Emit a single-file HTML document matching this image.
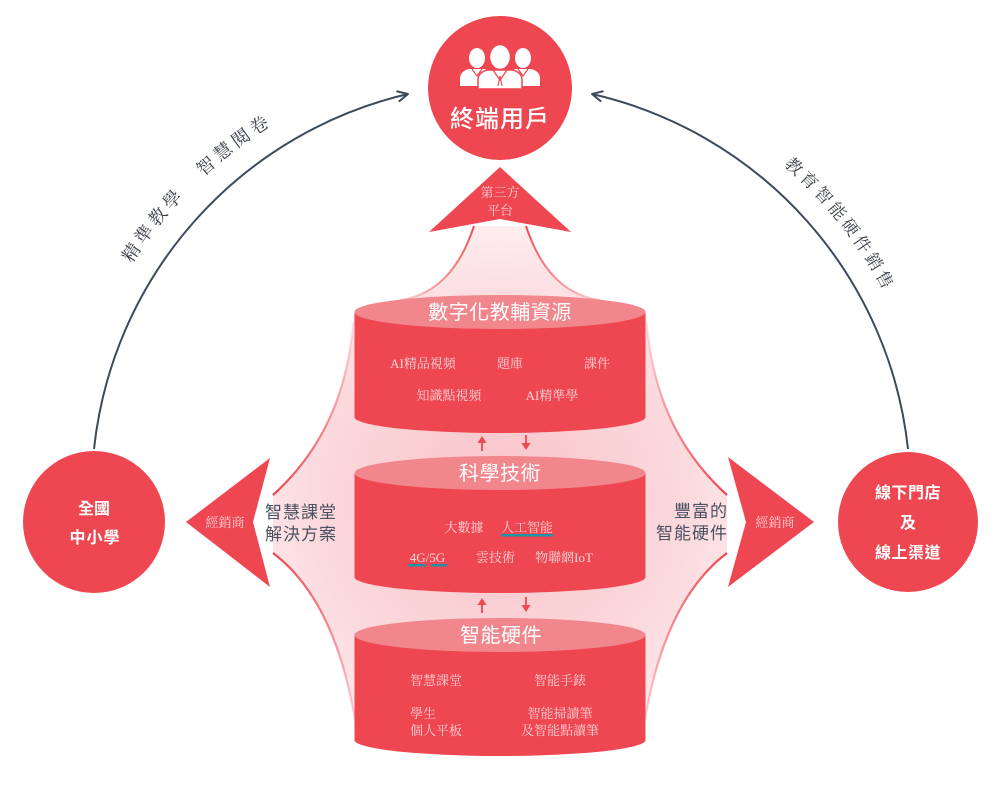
<!DOCTYPE html>
<html>
<head>
<meta charset="utf-8">
<style>
  html, body { margin:0; padding:0; background:#ffffff; }
  body { width:1006px; height:785px; overflow:hidden; }
  svg { display:block; }
  .sans { font-family: "Liberation Sans", "Noto Sans CJK TC", "Noto Sans CJK SC", sans-serif; }
  .serif { font-family: "Liberation Serif", "Noto Serif CJK SC", serif; }
</style>
</head>
<body>
<svg width="1006" height="785" viewBox="0 0 1006 785" xmlns="http://www.w3.org/2000/svg">
  <defs>
    <radialGradient id="fanG" cx="500" cy="500" r="300" gradientUnits="userSpaceOnUse">
      <stop offset="0" stop-color="#f8c3c8"/>
      <stop offset="0.6" stop-color="#fbd8dc"/>
      <stop offset="1" stop-color="#fff2f3"/>
    </radialGradient>
    <linearGradient id="gTL" gradientUnits="userSpaceOnUse" x1="474" y1="226" x2="380" y2="302">
      <stop offset="0" stop-color="#ef4751" stop-opacity="1"/>
      <stop offset="1" stop-color="#ef4751" stop-opacity="0.1"/>
    </linearGradient>
    <linearGradient id="gTR" gradientUnits="userSpaceOnUse" x1="526" y1="226" x2="620" y2="302">
      <stop offset="0" stop-color="#ef4751" stop-opacity="1"/>
      <stop offset="1" stop-color="#ef4751" stop-opacity="0.1"/>
    </linearGradient>
    <linearGradient id="gLU" gradientUnits="userSpaceOnUse" x1="353" y1="323" x2="273" y2="495">
      <stop offset="0" stop-color="#ef4751" stop-opacity="0.1"/>
      <stop offset="1" stop-color="#ef4751" stop-opacity="1"/>
    </linearGradient>
    <linearGradient id="gRU" gradientUnits="userSpaceOnUse" x1="647" y1="323" x2="727" y2="495">
      <stop offset="0" stop-color="#ef4751" stop-opacity="0.1"/>
      <stop offset="1" stop-color="#ef4751" stop-opacity="1"/>
    </linearGradient>
    <linearGradient id="gLL" gradientUnits="userSpaceOnUse" x1="273" y1="553" x2="355" y2="720">
      <stop offset="0" stop-color="#ef4751" stop-opacity="1"/>
      <stop offset="1" stop-color="#ef4751" stop-opacity="0.2"/>
    </linearGradient>
    <linearGradient id="gRL" gradientUnits="userSpaceOnUse" x1="727" y1="553" x2="645" y2="720">
      <stop offset="0" stop-color="#ef4751" stop-opacity="1"/>
      <stop offset="1" stop-color="#ef4751" stop-opacity="0.2"/>
    </linearGradient>
    <marker id="chev" viewBox="0 0 12 12" refX="11" refY="6" markerWidth="12" markerHeight="12" markerUnits="userSpaceOnUse" orient="auto">
      <path d="M1,1 L11,6 L1,11" fill="none" stroke="#3d4a5c" stroke-width="2" stroke-linecap="round" stroke-linejoin="round"/>
    </marker>
    <path id="labelArc" d="M 65,495 A 435,435 0 0,1 935,495"/>
  </defs>

  <!-- Big arcs -->
  <path d="M94,449 A409,409 0 0,1 408,94" fill="none" stroke="#3d4a5c" stroke-width="2" marker-end="url(#chev)"/>
  <path d="M908,449 A409,409 0 0,0 592,94" fill="none" stroke="#3d4a5c" stroke-width="2" marker-end="url(#chev)"/>

  <!-- Arc labels -->
  <text class="serif" font-size="18" fill="#3a3f4a" letter-spacing="4">
    <textPath href="#labelArc" startOffset="288" text-anchor="middle">精準教學</textPath>
  </text>
  <text class="serif" font-size="18" fill="#3a3f4a" letter-spacing="4">
    <textPath href="#labelArc" startOffset="401" text-anchor="middle">智慧閱卷</textPath>
  </text>
  <text class="serif" font-size="17" fill="#3a3f4a" letter-spacing="3.5">
    <textPath href="#labelArc" startOffset="1074" text-anchor="middle">教育智能硬件銷售</textPath>
  </text>

  <!-- Pink fan -->
  <path d="M474,226 Q452,293 400,300 A145.5,17 0 0,0 354.5,312 L353,323 Q345,430 273,495 L273,553 Q335,600 355,720 L645,720 Q665,600 727,553 L727,495 Q655,430 647,323 L645.5,312 A145.5,17 0 0,0 600,300 Q548,293 526,226 Z" fill="url(#fanG)"/>
  <!-- fan edge lines -->
  <path d="M474,226 Q452,293 400,300" fill="none" stroke="url(#gTL)" stroke-width="2"/>
  <path d="M526,226 Q548,293 600,300" fill="none" stroke="url(#gTR)" stroke-width="2"/>
  <path d="M353,323 Q345,430 273,495" fill="none" stroke="url(#gLU)" stroke-width="2.2"/>
  <path d="M647,323 Q655,430 727,495" fill="none" stroke="url(#gRU)" stroke-width="2.2"/>
  <path d="M273,553 Q335,600 355,720" fill="none" stroke="url(#gLL)" stroke-width="2.2"/>
  <path d="M727,553 Q665,600 645,720" fill="none" stroke="url(#gRL)" stroke-width="2.2"/>

  <!-- Arrows (triangles) -->
  <polygon points="500,167 571,232 500,219 429,232" fill="#ef4751"/>
  <polygon points="186,522 270,458 253,522 270,587" fill="#ef4751"/>
  <polygon points="814,522 728,457 746,522 728,587" fill="#ef4751"/>

  <text class="serif" font-size="13" fill="#fbd3d6" text-anchor="middle" x="500" y="197">第三方</text>
  <text class="serif" font-size="13" fill="#fbd3d6" text-anchor="middle" x="500" y="215">平台</text>
  <text class="serif" font-size="13" fill="#fbd3d6" text-anchor="middle" x="225" y="527">經銷商</text>
  <text class="serif" font-size="13" fill="#fbd3d6" text-anchor="middle" x="775" y="527">經銷商</text>

  <!-- side labels -->
  <text class="sans" font-size="17" fill="#4a5060" letter-spacing="1" x="265" y="518">智慧課堂</text>
  <text class="sans" font-size="17" fill="#4a5060" letter-spacing="1" x="265" y="540">解決方案</text>
  <text class="sans" font-size="17" fill="#4a5060" letter-spacing="1" text-anchor="end" x="728" y="517">豐富的</text>
  <text class="sans" font-size="17" fill="#4a5060" letter-spacing="1" text-anchor="end" x="728" y="539">智能硬件</text>

  <!-- Circles -->
  <circle cx="500" cy="88" r="72" fill="#ef4751"/>
  <circle cx="94" cy="522" r="71" fill="#ef4751"/>
  <circle cx="908" cy="522" r="70" fill="#ef4751"/>

  <!-- People icon -->
  <g>
    <ellipse cx="477" cy="58" rx="8" ry="10" fill="#ffffff"/>
    <path d="M460,86 L460,79 Q460,71 469,69 L485,69 Q493,71 494,79 L494,86 Z" fill="#ffffff"/>
    <path d="M472,69 L477,76 L482,69" fill="none" stroke="#ef4751" stroke-width="1.2"/>
    <ellipse cx="523" cy="58" rx="8" ry="10" fill="#ffffff"/>
    <path d="M506,86 L506,79 Q507,71 515,69 L531,69 Q540,71 540,79 L540,86 Z" fill="#ffffff"/>
    <path d="M518,69 L523,76 L528,69" fill="none" stroke="#ef4751" stroke-width="1.2"/>
    <ellipse cx="500" cy="57" rx="10.5" ry="12.5" fill="#ffffff" stroke="#ef4751" stroke-width="1.5"/>
    <path d="M478,89 L478,80 Q478,72 488,70 L512,70 Q522,72 522,80 L522,89 Z" fill="#ffffff" stroke="#ef4751" stroke-width="1.5"/>
    <path d="M493,70 L500,80 L507,70" fill="none" stroke="#ef4751" stroke-width="1.3"/>
    <path d="M500,76 L498,86 M500,76 L502,86" fill="none" stroke="#ef4751" stroke-width="1.1"/>
  </g>
  <text class="sans" font-size="24" font-weight="500" fill="#ffffff" text-anchor="middle" letter-spacing="1" x="500" y="127">終端用戶</text>

  <text class="sans" font-size="16" font-weight="bold" fill="#ffffff" text-anchor="middle" x="94" y="514">全國</text>
  <text class="sans" font-size="16" font-weight="bold" fill="#ffffff" text-anchor="middle" letter-spacing="1" x="95" y="543">中小學</text>

  <text class="sans" font-size="16" font-weight="bold" fill="#ffffff" text-anchor="middle" letter-spacing="0.5" x="908" y="498">線下門店</text>
  <text class="sans" font-size="16" font-weight="bold" fill="#ffffff" text-anchor="middle" x="908" y="528">及</text>
  <text class="sans" font-size="16" font-weight="bold" fill="#ffffff" text-anchor="middle" letter-spacing="0.5" x="908" y="558">線上渠道</text>

  <!-- Cylinder 1 -->
  <path d="M354.5,312 L354.5,417 A145.5,16 0 0,0 645.5,417 L645.5,312 Z" fill="#ef4751"/>
  <ellipse cx="500" cy="312" rx="145.5" ry="17" fill="#f1878d"/>
  <text class="sans" font-size="20" fill="#ffffff" text-anchor="middle" letter-spacing="0.5" x="500" y="319">數字化教輔資源</text>
  <g class="serif" font-size="13" fill="#fbd3d6" text-anchor="middle">
    <text x="423" y="368">AI精品視頻</text>
    <text x="510" y="368">題庫</text>
    <text x="597" y="368">課件</text>
    <text x="449" y="400">知識點視頻</text>
    <text x="552" y="400">AI精準學</text>
  </g>

  <!-- small arrows between 1 and 2 -->
  <g stroke="#ef4751" stroke-width="1.8" fill="#ef4751">
    <line x1="482" y1="451" x2="482" y2="441"/>
    <polygon points="482,436 477.5,443 486.5,443" stroke="none"/>
    <line x1="526" y1="435" x2="526" y2="445"/>
    <polygon points="526,450 521.5,443 530.5,443" stroke="none"/>
  </g>

  <!-- Cylinder 2 -->
  <path d="M354.5,473 L354.5,577 A145.5,16 0 0,0 645.5,577 L645.5,473 Z" fill="#ef4751"/>
  <ellipse cx="500" cy="473" rx="145.5" ry="17" fill="#f1878d"/>
  <text class="sans" font-size="20" fill="#ffffff" text-anchor="middle" letter-spacing="0.5" x="500" y="480">科學技術</text>
  <g class="serif" font-size="13" fill="#fbd3d6" text-anchor="middle">
    <text x="464" y="532">大數據</text>
    <text x="527" y="532">人工智能</text>
    <text x="427.5" y="562">4G/5G</text>
    <text x="495.5" y="562">雲技術</text>
    <text x="564" y="562">物聯網IoT</text>
  </g>
  <rect x="501" y="534" width="52" height="2.5" fill="#1f93a8"/>
  <rect x="408" y="564" width="18" height="2.5" fill="#1f93a8"/>
  <rect x="431" y="564" width="16" height="2.5" fill="#1f93a8"/>

  <!-- small arrows between 2 and 3 -->
  <g stroke="#ef4751" stroke-width="1.8" fill="#ef4751">
    <line x1="482" y1="613" x2="482" y2="603"/>
    <polygon points="482,598 477.5,605 486.5,605" stroke="none"/>
    <line x1="526" y1="597" x2="526" y2="607"/>
    <polygon points="526,612 521.5,605 530.5,605" stroke="none"/>
  </g>

  <!-- Cylinder 3 -->
  <path d="M354.5,635 L354.5,740 A145.5,16 0 0,0 645.5,740 L645.5,635 Z" fill="#ef4751"/>
  <ellipse cx="500" cy="635" rx="145.5" ry="17" fill="#f1878d"/>
  <text class="sans" font-size="20" fill="#ffffff" text-anchor="middle" letter-spacing="0.5" x="501" y="642">智能硬件</text>
  <g class="serif" font-size="13" fill="#fbd3d6">
    <text x="410" y="685">智慧課堂</text>
    <text x="560" y="685" text-anchor="middle">智能手錶</text>
    <text x="410" y="718">學生</text>
    <text x="410" y="735">個人平板</text>
    <text x="560" y="718" text-anchor="middle">智能掃讀筆</text>
    <text x="560" y="735" text-anchor="middle">及智能點讀筆</text>
  </g>
</svg>
</body>
</html>
